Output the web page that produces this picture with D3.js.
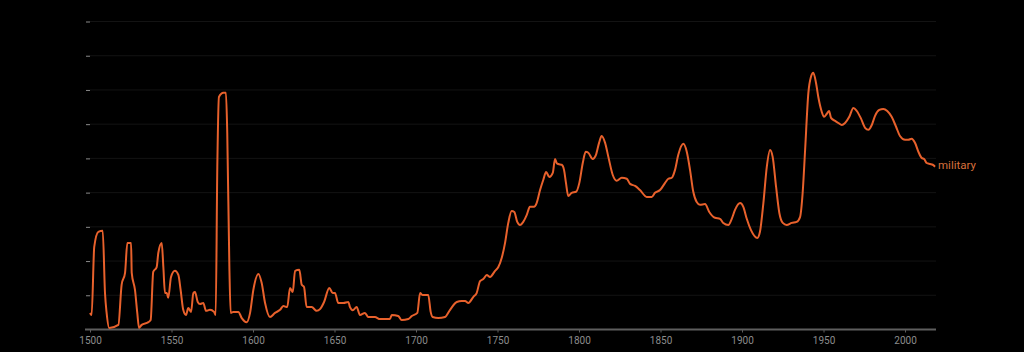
<!DOCTYPE html>
<html>
<head>
  <meta charset='utf-8'>
  <title>military</title>
  <script src='https://cdn.jsdelivr.net/npm/d3@7/dist/d3.min.js'></script>
  <style>
    html, body { margin: 0; padding: 0; background: #000; }
  </style>
</head>
<body>
  <script type='text/javascript'>
    // series (value units = one grid step)
    const term = 'military';
    const years = [1500, 1501, 1502.6, 1505.1, 1507.8, 1509.2, 1510.2, 1511.8, 1517.4, 1519.4,
      1521.5, 1522.9, 1525.2, 1525.6, 1527.6, 1529, 1530.1, 1531.7, 1535.8, 1537.2,
      1538.8, 1540.9, 1541.9, 1544, 1545, 1546, 1547.1, 1548, 1549.7, 1552.1,
      1554.2, 1555.6, 1557.2, 1558.9, 1560.3, 1562, 1563.4, 1564.4, 1566.1, 1567.5,
      1569.5, 1571.2, 1573.6, 1576.1, 1577.1, 1578.1, 1579.1, 1581.8, 1583.4, 1584.2,
      1585.5, 1586.3, 1587.9, 1591, 1593.1, 1596.1, 1598.2, 1600.2, 1603.3, 1605.3,
      1607.4, 1610.4, 1613.5, 1616.6, 1618.6, 1621, 1622.7, 1624.4, 1625.8, 1628.4,
      1629.9, 1631.3, 1632.9, 1636, 1639.1, 1641.1, 1643.6, 1646.8, 1648.9, 1650.3,
      1652.3, 1655.4, 1658.5, 1659.5, 1661.2, 1663.6, 1665.6, 1668.7, 1670.7, 1674.8,
      1677.9, 1681, 1684, 1685.1, 1689.1, 1691.2, 1695.3, 1697.4, 1700.8, 1702.5,
      1704.1, 1707.5, 1709, 1710.2, 1713.7, 1717.8, 1720.9, 1725, 1728, 1730.1,
      1732.1, 1735.2, 1737.2, 1739.3, 1741.3, 1743.4, 1745.4, 1748.5, 1750.5, 1752.6,
      1754.6, 1756.6, 1758.7, 1760.3, 1762.1, 1763.8, 1765.8, 1767.9, 1769.9, 1772.4,
      1774, 1776.1, 1778.1, 1779.8, 1781.8, 1783.9, 1785.3, 1786.3, 1787.3, 1789.4,
      1790.8, 1792, 1793.4, 1795.5, 1798.2, 1800.2, 1802.3, 1804.1, 1805.7, 1808.4,
      1810.4, 1812.3, 1813.9, 1816, 1818, 1820.7, 1823.1, 1826.2, 1829.3, 1831.3,
      1834.4, 1837.4, 1841.5, 1844.6, 1846.6, 1849.7, 1852.8, 1854.8, 1856.9, 1858.9,
      1860.9, 1864, 1866.1, 1868.1, 1870.1, 1872.2, 1874.2, 1877.3, 1879.9, 1883.4,
      1886.5, 1888.5, 1891.6, 1893.7, 1895.7, 1898.8, 1900.8, 1902.9, 1905.5, 1909.4,
      1911, 1913.1, 1915.2, 1917.2, 1918.8, 1920.9, 1922.9, 1925, 1927.4, 1930.5,
      1933.5, 1935.6, 1937.2, 1938.7, 1940.7, 1942.3, 1943.7, 1945.4, 1946.8, 1948.9,
      1950.3, 1952, 1953.4, 1954.6, 1957.1, 1959.1, 1961.2, 1963.2, 1965.8, 1968.3,
      1970.4, 1972.8, 1975.5, 1977.5, 1979.6, 1981.6, 1984.2, 1986.7, 1989.1, 1991.8,
      1994.5, 1996.9, 2000, 2002, 2004.1, 2006.1, 2008.2, 2010.2, 2011.7, 2013.3,
      2015.3, 2017, 2018.4];
    const values = [0.47, 0.41, 2.40, 2.84, 2.87, 1.05, 0.47, 0.03, 0.12, 1.29,
      1.64, 2.51, 2.51, 1.64, 1.14, 0.47, 0.03, 0.12, 0.20, 0.26,
      1.67, 1.81, 2.22, 2.51, 1.81, 1.05, 1.05, 0.91, 1.52, 1.70,
      1.58, 1.14, 0.56, 0.41, 0.61, 0.50, 1.05, 1.08, 0.79, 0.73,
      0.76, 0.53, 0.56, 0.50, 0.41, 4.74, 6.78, 6.90, 6.90, 5.73,
      1.81, 0.47, 0.50, 0.50, 0.32, 0.20, 0.47, 1.14, 1.61, 1.35,
      0.76, 0.35, 0.47, 0.56, 0.67, 0.64, 1.20, 1.08, 1.70, 1.73,
      1.29, 1.23, 0.64, 0.64, 0.53, 0.58, 0.79, 1.20, 1.05, 1.05,
      0.76, 0.76, 0.79, 0.64, 0.55, 0.64, 0.41, 0.47, 0.35, 0.35,
      0.29, 0.29, 0.29, 0.41, 0.38, 0.26, 0.29, 0.38, 0.47, 1.05,
      0.99, 0.99, 0.50, 0.35, 0.32, 0.35, 0.56, 0.79, 0.82, 0.82,
      0.76, 0.94, 1.05, 1.40, 1.46, 1.58, 1.52, 1.70, 1.81, 2.08,
      2.51, 3.10, 3.45, 3.42, 3.13, 3.04, 3.13, 3.33, 3.57, 3.57,
      3.68, 4.06, 4.36, 4.59, 4.44, 4.56, 4.97, 4.85, 4.82, 4.80,
      4.65, 4.27, 3.89, 3.98, 4.01, 4.27, 4.85, 5.18, 5.15, 4.97,
      5.09, 5.44, 5.64, 5.44, 5.03, 4.50, 4.33, 4.42, 4.39, 4.24,
      4.18, 4.06, 3.86, 3.86, 3.98, 4.06, 4.27, 4.39, 4.42, 4.65,
      5.09, 5.41, 5.18, 4.65, 4.01, 3.71, 3.63, 3.65, 3.42, 3.25,
      3.22, 3.10, 3.04, 3.22, 3.48, 3.68, 3.57, 3.22, 2.89, 2.66,
      2.84, 3.68, 4.74, 5.23, 5.03, 4.15, 3.39, 3.10, 3.04, 3.10,
      3.13, 3.27, 3.98, 5.23, 6.90, 7.37, 7.49, 7.19, 6.78, 6.35,
      6.20, 6.29, 6.37, 6.17, 6.08, 6.02, 5.96, 6.02, 6.20, 6.46,
      6.37, 6.17, 5.88, 5.82, 5.96, 6.23, 6.40, 6.43, 6.37, 6.20,
      5.91, 5.64, 5.53, 5.53, 5.56, 5.44, 5.18, 5.00, 4.97, 4.85,
      4.82, 4.80, 4.74];
    const xTicks = [1500, 1550, 1600, 1650, 1700, 1750, 1800, 1850, 1900, 1950, 2000];
    const yTicks = [0, 1, 2, 3, 4, 5, 6, 7, 8, 9];

    const width = 1024;
    const height = 352;
    const margin = { top: 21, right: 88, bottom: 23, left: 90 };

    const data = years.map((y, i) => ({ year: y, value: values[i] }));

    const x = d3.scaleLinear()
      .domain([1500, 2019])
      .range([margin.left, width - margin.right]);
    const y = d3.scaleLinear()
      .domain([0, 9])
      .range([height - margin.bottom, margin.top]);

    const svg = d3.select('body')
      .append('svg')
      .attr('width', width)
      .attr('height', height)
      .style('display', 'block')
      .style('background', '#000');

    // faint horizontal grid
    svg.append('g')
      .selectAll('line')
      .data(yTicks.slice(1))
      .join('line')
      .attr('x1', x(1500))
      .attr('x2', x(2019))
      .attr('y1', d => y(d) + 0.5)
      .attr('y2', d => y(d) + 0.5)
      .attr('stroke', '#131313')
      .attr('stroke-width', 1);

    // y axis: tiny marks only, no labels
    const yAxis = svg.append('g')
      .attr('transform', `translate(${x(1500)},0)`)
      .call(d3.axisLeft(y).tickValues(yTicks.slice(1)).tickSize(4).tickFormat(''));
    yAxis.select('.domain').remove();
    yAxis.selectAll('line').attr('stroke', '#8a8a8a').attr('transform', 'translate(0,0.5)');

    // x axis
    const xAxis = svg.append('g')
      .attr('transform', `translate(0,${y(0) + 0.5})`)
      .call(d3.axisBottom(x).tickValues(xTicks).tickSize(3).tickSizeOuter(0).tickFormat(d3.format('d')));
    xAxis.select('.domain')
      .attr('d', `M${x(1500) - 5},0H${x(2019)}`)
      .attr('stroke', '#5e5e5e')
      .attr('stroke-width', 2);
    xAxis.selectAll('line').attr('stroke', '#5e5e5e');
    xAxis.selectAll('text')
      .attr('fill', '#8c8c8c')
      .attr('font-family', 'Roboto, sans-serif')
      .attr('font-size', 10)
      .attr('dy', '0.85em');

    const line = d3.line()
      .x(d => x(d.year))
      .y(d => y(d.value))
      .curve(d3.curveMonotoneX);

    svg.append('path')
      .datum(data)
      .attr('fill', 'none')
      .attr('stroke', '#e8612c')
      .attr('stroke-width', 2)
      .attr('stroke-linejoin', 'round')
      .attr('d', line);

    const last = data[data.length - 1];
    svg.append('text')
      .attr('x', x(last.year) + 3)
      .attr('y', y(last.value) - 2)
      .attr('dy', '0.35em')
      .attr('fill', '#d8703c')
      .attr('font-family', 'Roboto, sans-serif')
      .attr('font-size', 11.5)
      .text(term);
  </script>
</body>
</html>
